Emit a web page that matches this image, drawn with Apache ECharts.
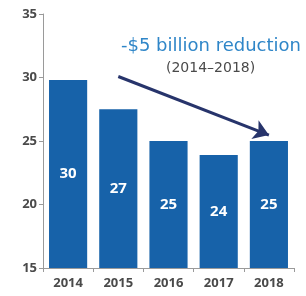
<!DOCTYPE html>
<html>
<head>
<meta charset="utf-8">
<script src="https://cdn.jsdelivr.net/npm/echarts@6/dist/echarts.min.js"></script>
<style>
  html, body { margin: 0; padding: 0; background: #fff; }
  #main { width: 306px; height: 296px; }
</style>
</head>
<body>
<div id="main"></div>
<script>
// data
var years = ['2014', '2015', '2016', '2017', '2018'];
var spending = [29.8, 27.5, 25.0, 23.9, 25.0];
var barLabels = ['30', '27', '25', '24', '25'];
var yTicks = [15, 20, 25, 30, 35];

var myChart = echarts.init(document.getElementById('main'));

var option = {
  backgroundColor: '#ffffff',
  animation: false,
  grid: { left: 43, right: 12, top: 14, bottom: 28 },
  xAxis: {
    type: 'category',
    data: years,
    axisLine: { lineStyle: { color: '#9a9a9a', width: 1 } },
    axisTick: { show: true, length: 4, lineStyle: { color: '#9a9a9a' } },
    axisLabel: {
      color: '#4a4a4a', fontSize: 13, fontWeight: 'bold',
      fontFamily: 'Open Sans', margin: 9
    }
  },
  yAxis: {
    type: 'value',
    min: yTicks[0],
    max: yTicks[yTicks.length - 1],
    interval: 5,
    splitLine: { show: false },
    axisLine: { show: true, lineStyle: { color: '#9a9a9a', width: 1 } },
    axisTick: { show: true, length: 4, lineStyle: { color: '#9a9a9a' } },
    axisLabel: {
      color: '#4a4a4a', fontSize: 13, fontWeight: 'bold',
      fontFamily: 'Open Sans', margin: 6
    }
  },
  series: [{
    type: 'bar',
    data: spending,
    barCategoryGap: '24%',
    itemStyle: { color: '#1762a9' },
    label: {
      show: true,
      position: 'inside',
      color: '#ffffff',
      fontSize: 15,
      fontWeight: 'bold',
      fontFamily: 'Open Sans',
      formatter: function (p) { return barLabels[p.dataIndex]; }
    },
    markLine: {
      silent: true,
      symbol: ['none', 'arrow'],
      symbolSize: [15, 15],
      label: { show: false },
      lineStyle: { color: '#27346b', width: 3, type: 'solid' },
      data: [[{ coord: [0.5, 30.08] }, { coord: [3.92, 25.47] }]]
    }
  }],
  graphic: [{
    type: 'text',
    left: 121,
    top: 37,
    style: {
      text: '-$5 billion reduction',
      fill: '#2f86c8',
      font: '18px "DejaVu Sans"'
    }
  }, {
    type: 'text',
    left: 166,
    top: 61,
    style: {
      text: '(2014\u20132018)',
      fill: '#4a4a4a',
      font: '14px "DejaVu Sans"'
    }
  }]
};

myChart.setOption(option);
</script>
</body>
</html>
